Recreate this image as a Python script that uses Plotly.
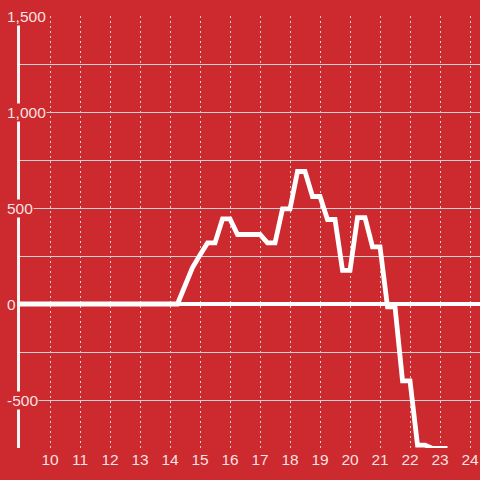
import plotly.graph_objects as go

# ── Data ─────────────────────────────────────────────────────────────────────
hours = [9.0, 10.0, 11.0, 12.0, 13.0, 14.0, 14.25, 14.5, 14.75, 15.0,
         15.25, 15.5, 15.75, 16.0, 16.25, 16.5, 16.75, 17.0, 17.25, 17.5,
         17.75, 18.0, 18.25, 18.5, 18.75, 19.0, 19.25, 19.5, 19.75, 20.0,
         20.25, 20.5, 20.75, 21.0, 21.25, 21.5, 21.75, 22.0, 22.25, 22.5,
         22.75, 23.0, 23.25]
values = [0, 0, 0, 0, 0, 0, 0, 95, 190, 255,
          318, 318, 443, 443, 362, 362, 362, 362, 318, 318,
          495, 495, 690, 690, 560, 560, 440, 440, 175, 175,
          450, 450, 298, 298, -15, -15, -400, -400, -735, -735,
          -752, -752, -752]

x_ticks = [10, 11, 12, 13, 14, 15, 16, 17, 18, 19, 20, 21, 22, 23, 24]
x_tick_labels = [str(t) for t in x_ticks]
y_label_vals = [1500, 1000, 500, 0, -500]
y_label_text = ["1,500", "1,000", "500", "0", "-500"]

# ── Style ────────────────────────────────────────────────────────────────────
BG = "#cc2a2f"
TEXT = "rgba(255,255,255,0.88)"
GRID = "#d2d2d2"
FONT = "Liberation Sans, Arial, sans-serif"

fig = go.Figure(go.Scatter(
    x=hours, y=values,
    mode="lines",
    line=dict(color="white", width=4.8),
    showlegend=False,
    hoverinfo="skip",
))

for v, t in zip(y_label_vals, y_label_text):
    fig.add_annotation(
        x=-0.031, xref="paper", xanchor="left",
        y=v, yref="y", yanchor="middle",
        text=t, showarrow=False,
        bgcolor=BG, borderpad=0,
        font=dict(family=FONT, size=15.5, color=TEXT),
    )

fig.update_layout(
    width=480, height=480,
    paper_bgcolor=BG, plot_bgcolor=BG,
    margin=dict(l=20, r=0, t=16, b=32),
    font=dict(family=FONT, size=15.5, color=TEXT),
    xaxis=dict(
        range=[9.0, 24.333],
        tickvals=x_ticks, ticktext=x_tick_labels,
        showgrid=True, gridcolor=GRID, gridwidth=1, griddash="2px,3px",
        zeroline=False, showline=False, ticks="",
        tickfont=dict(family=FONT, size=15.5, color=TEXT),
    ),
    yaxis=dict(
        range=[-750, 1500], dtick=250,
        showticklabels=False, ticks="",
        showgrid=True, gridcolor=GRID, gridwidth=1,
        zeroline=True, zerolinecolor="white", zerolinewidth=3.5,
        showline=True, linecolor="#f4f4f4", linewidth=3,
    ),
)

# the page's default body margin would shift the chart by 8px
fig.write_html("out.html", config={"displayModeBar": False},
               post_script="document.body.style.margin = '0';")
